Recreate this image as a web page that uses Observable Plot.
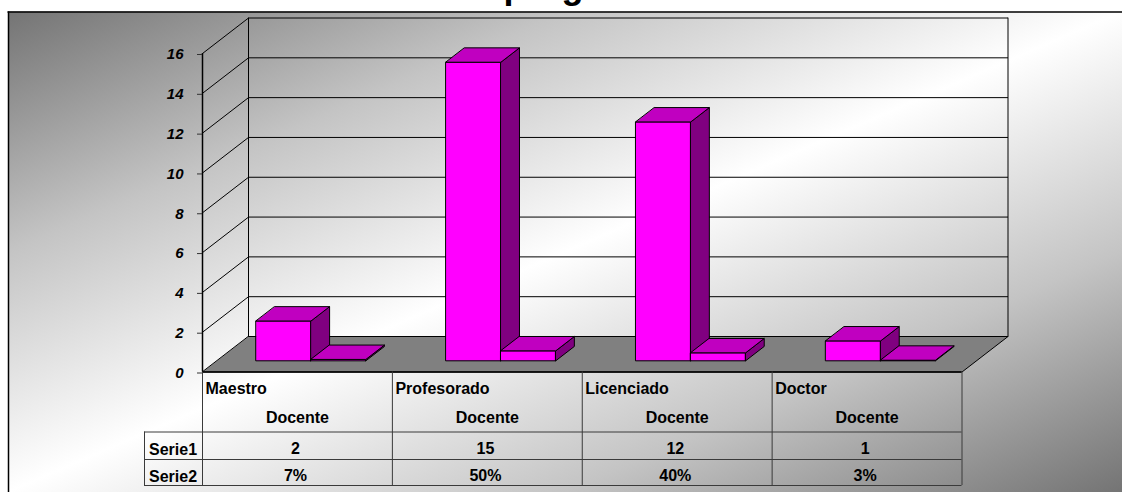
<!DOCTYPE html>
<html><head><meta charset="utf-8">
<script src="https://cdn.jsdelivr.net/npm/d3@7"></script>
<script src="https://cdn.jsdelivr.net/npm/@observablehq/plot@0.6"></script>
<style>html,body{margin:0;padding:0;background:#fff}svg{display:block}</style>
</head><body><div id="chart"></div>
<script>
const titleText = "programa";
const categories = ["Maestro", "Profesorado", "Licenciado", "Doctor"];
const subLabel = "Docente";
const serie1 = [2, 15, 12, 1];
const serie2 = [7, 50, 40, 3];
const yTicks = [0, 2, 4, 6, 8, 10, 12, 14, 16];
const rowNames = ["Serie1", "Serie2"];

// layout of the drawing, pixels
const L = 202, R = 961.5, B = 371.5, T = 53, W = 1122, H = 492;
const ux = (R - L) / categories.length, uy = (B - T) / 16;
const X = px => (px - L) / ux, Y = py => (B - py) / uy;
// oblique projection: a point at depth d (0 front, 1 back)
const DX = 46 / ux, DY = 35.5 / uy;
const P = (x, y, d) => ({x: x + d * DX, y: y + d * DY});

const gap = 0.206, bw = 0.289, d0 = 0.315, d1 = 0.72;
const front = [], top_ = [], side = [];
let id = 0;
const barsList = [];
categories.forEach((c, i) => {
  barsList.push({x: i + gap, v: serie1[i]});
  barsList.push({x: i + gap + bw, v: serie2[i] / 100});
});
barsList.forEach(b => {
  const a = b.x, e = b.x + bw, v = b.v, k = id++;
  const face = (arr, pts) => pts.forEach(p => arr.push({...p, k}));
  face(front, [P(a, 0, d0), P(e, 0, d0), P(e, v, d0), P(a, v, d0)]);
  face(top_, [P(a, v, d0), P(e, v, d0), P(e, v, d1), P(a, v, d1)]);
  face(side, [P(e, 0, d0), P(e, 0, d1), P(e, v, d1), P(e, v, d0)]);
});
// faces are kept per bar so the later bar overlaps the earlier one
const faceMarks = d3.range(id).flatMap(k => [
  Plot.line(front.filter(d => d.k === k), {x: "x", y: "y", curve: "linear-closed", fill: "#ff00ff", stroke: "#000", strokeWidth: 1}),
  Plot.line(side.filter(d => d.k === k), {x: "x", y: "y", curve: "linear-closed", fill: "#800080", stroke: "#000", strokeWidth: 1}),
  Plot.line(top_.filter(d => d.k === k), {x: "x", y: "y", curve: "linear-closed", fill: "#c000c0", stroke: "#000", strokeWidth: 1})
]);

const n = categories.length;
const floor = [P(0, 0, 0), P(n, 0, 0), P(n, 0, 1), P(0, 0, 1)];
const gridBack = yTicks.slice(1).map(v => ({v, a: P(0, v, 1), b: P(n, v, 1)}));
const gridSide = yTicks.slice(1).map(v => ({a: P(0, v, 0), b: P(0, v, 1)}));

const font = {fontFamily: "Liberation Sans, Arial, sans-serif", fontWeight: "bold", fontSize: 16, fill: "#000"};
const rowEdge = [Y(431.5), Y(459), Y(485)];
const colEdges = d3.range(n + 1);
const tableColor = "#3a3a3a";

const gradient = () => {
  const s = d3.create("svg:defs");
  const g = s.append("linearGradient").attr("id", "bg").attr("x1", 0).attr("y1", 0).attr("x2", 1).attr("y2", 1);
  g.append("stop").attr("offset", 0).attr("stop-color", "#747474");
  g.append("stop").attr("offset", 0.25).attr("stop-color", "#c4c4c4");
  g.append("stop").attr("offset", 0.5).attr("stop-color", "#ffffff");
  g.append("stop").attr("offset", 0.75).attr("stop-color", "#c4c4c4");
  g.append("stop").attr("offset", 1).attr("stop-color", "#747474");
  return s.node();
};

const plot = Plot.plot({
  width: W, height: H,
  marginLeft: L, marginRight: W - R, marginTop: T, marginBottom: H - B,
  style: {background: "#fff", fontFamily: "Liberation Sans, Arial, sans-serif", overflow: "hidden"},
  x: {type: "linear", domain: [0, n], axis: null},
  y: {type: "linear", domain: [0, 16]},
  marks: [
    gradient,
    Plot.rect([0], {x1: X(8), x2: X(W), y1: Y(11.5), y2: Y(H), fill: "url(#bg)"}),
    Plot.ruleY([Y(11.5)], {x1: X(7.5), x2: X(W), stroke: "#000", strokeWidth: 1.5}),
    Plot.ruleX([X(8)], {y1: Y(11.5), y2: Y(H), stroke: "#000", strokeWidth: 1.5}),
    Plot.text([titleText], {x: X(503), y: Y(-2.5), text: d => d, textAnchor: "start", lineAnchor: "bottom", fontFamily: font.fontFamily, fontWeight: "bold", fontSize: 36, fill: "#000"}),
    // walls
    Plot.link(gridBack, {x1: d => d.a.x, y1: d => d.a.y, x2: d => d.b.x, y2: d => d.b.y, stroke: "#000", strokeWidth: 1}),
    Plot.link(gridSide, {x1: d => d.a.x, y1: d => d.a.y, x2: d => d.b.x, y2: d => d.b.y, stroke: "#000", strokeWidth: 1}),
    Plot.line([P(0, 0, 1), P(0, 16, 1)], {x: "x", y: "y", stroke: "#000", strokeWidth: 1}),
    Plot.line([P(n, 0, 1), P(n, 16, 1)], {x: "x", y: "y", stroke: "#000", strokeWidth: 1}),
    // floor
    Plot.line(floor, {x: "x", y: "y", curve: "linear-closed", fill: "#808080", stroke: "#000", strokeWidth: 1}),
    ...faceMarks,
    // table
    Plot.ruleY([0], {x1: 0, x2: n, stroke: "#000", strokeWidth: 1.5}),
    Plot.ruleX(colEdges, {y1: 0, y2: rowEdge[2], stroke: tableColor, strokeWidth: 1}),
    Plot.ruleY(rowEdge, {x1: X(144), x2: n, stroke: tableColor, strokeWidth: 1}),
    Plot.ruleX([X(144)], {y1: rowEdge[0], y2: rowEdge[2], stroke: tableColor, strokeWidth: 1}),
    Plot.text(categories, {x: (d, i) => i + X(205), y: Y(388), text: d => d, textAnchor: "start", ...font}),
    Plot.text(categories, {x: (d, i) => i + 0.5, y: Y(417.5), text: () => subLabel, ...font}),
    Plot.text(serie1, {x: (d, i) => i + 0.49, y: Y(448.5), text: d => String(d), ...font}),
    Plot.text(serie2, {x: (d, i) => i + 0.49, y: Y(475), text: d => d + "%", ...font}),
    Plot.text(rowNames, {x: X(148.5), y: (d, i) => Y(i ? 476.5 : 449), text: d => d, textAnchor: "start", ...font}),
    // value axis
    Plot.ruleX([0], {y1: 0, y2: 16, stroke: "#000", strokeWidth: 1.5}),
    Plot.axisY({ticks: yTicks, tickSize: 5, tickPadding: 14, label: null, stroke: "#333", fontSize: 15, dy: 1, fontWeight: "bold", fontStyle: "italic", fill: "#000", textStroke: "none"})
  ]
});
document.getElementById("chart").appendChild(plot);
</script></body></html>
